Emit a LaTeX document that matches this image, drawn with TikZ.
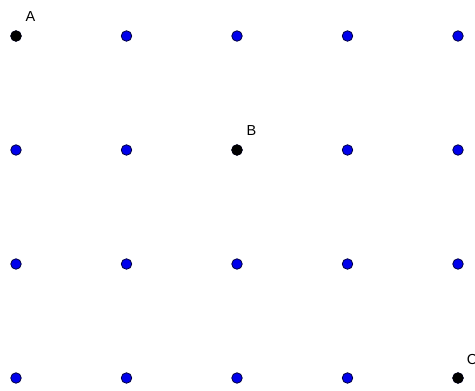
\documentclass[tikz,border=0pt]{standalone}
\usepackage{fontspec}
\setmainfont{Liberation Sans}
\begin{document}
\begin{tikzpicture}[x=1pt,y=-1pt,
  gdot/.style={circle,fill=blue!92!black,draw=black!75!blue,line width=0.8pt,inner sep=0pt,minimum size=10.5pt},
  bdot/.style={circle,fill=black,draw=black,line width=0.6pt,inner sep=0pt,minimum size=10.5pt},
  lab/.style={font=\fontsize{14.5}{16}\selectfont,inner sep=0pt}]
\useasboundingbox (0,0) rectangle (475,391);
\foreach \i/\x in {0/16,1/126.5,2/237,3/347.5,4/458}{
  \foreach \j/\y in {0/36,1/150,2/264,3/378}{
    \node[gdot] (p\i\j) at (\x,\y) {};
  }
}
\node[bdot] (A) at (16,36) {};
\node[bdot] (B) at (237,150) {};
\node[bdot] (C) at (458,378) {};
\node[lab] (lA) at (30.5,16.5) {A};
\node[lab] (lB) at (251.5,131) {B};
\node[lab] (lC) at (472,360) {C};
\end{tikzpicture}
\end{document}
